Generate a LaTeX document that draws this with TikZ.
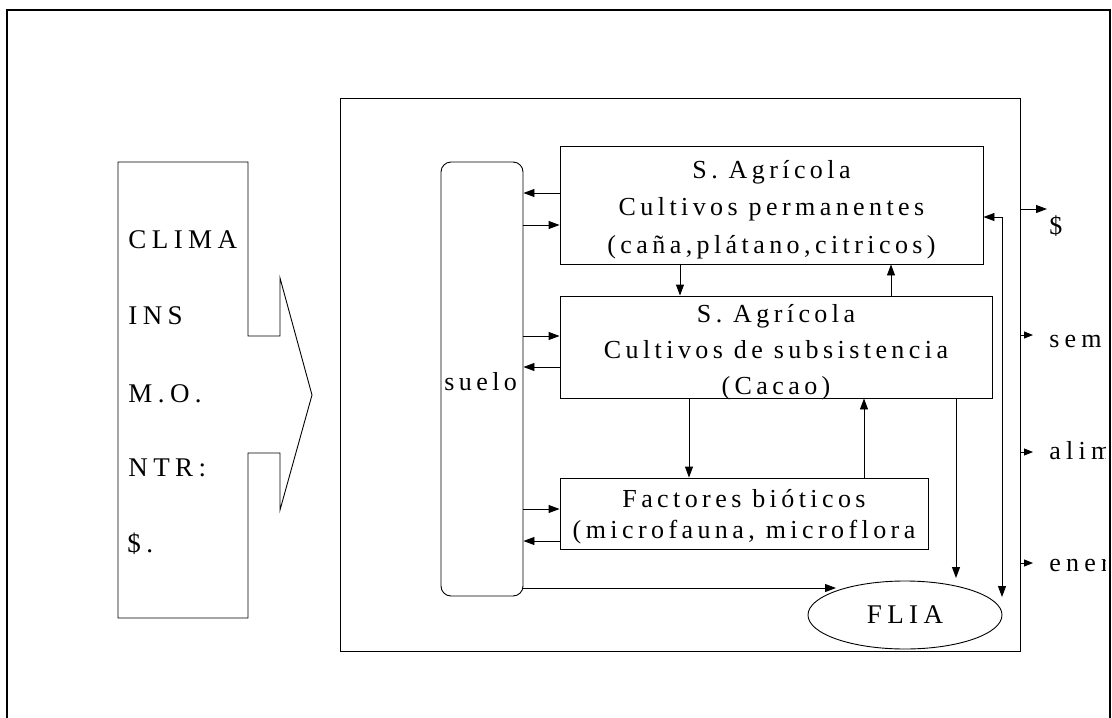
\documentclass[tikz,border=0pt]{standalone}
\usepackage{fontspec}
\setmainfont{Liberation Serif}
\newfontfamily\spA{Liberation Serif}[LetterSpace=17]
\newfontfamily\spB{Liberation Serif}[LetterSpace=20]
\usetikzlibrary{arrows.meta,shapes.geometric}
\begin{document}
\begin{tikzpicture}[x=1pt,y=-1pt,line width=0.9pt,
  box/.style={draw,rectangle,inner sep=0pt},
  arr/.style={-{Triangle[length=11pt,width=8pt]}},
  darr/.style={{Triangle[length=11pt,width=8pt]}-{Triangle[length=11pt,width=8pt]}},
  sarr/.style={-{Triangle[length=9pt,width=7pt]}},
  btxt/.style={font=\spA\fontsize{26}{31}\selectfont,inner sep=0pt,anchor=base},
  ltxt/.style={font=\spB\fontsize{27}{32}\selectfont,inner sep=0pt,anchor=base west},
  rtxt/.style={font=\spB\fontsize{26}{31}\selectfont,inner sep=0pt,anchor=base west}]
\useasboundingbox (0,0) rectangle (1112,718);
% outer frame
\draw[line width=1.6pt] (7,718) -- (7,10) -- (1110,10) -- (1110,718);
% left block arrow
\draw (118,162) -- (248,162) -- (248,336) -- (280,336) -- (280,278) -- (312,395)
  -- (280,510) -- (280,453) -- (248,453) -- (248,618) -- (118,618) -- cycle;
\node[ltxt] (clima) at (128,248) {CLIMA};
\node[ltxt] (ins) at (128,324) {INS};
\node[ltxt] (mo) at (128,402) {M.O.};
\node[ltxt] (ntr) at (128,476) {NTR:};
\node[ltxt] (din) at (127,552) {\$.};
% main frame
\node[box,minimum width=680pt,minimum height=553pt] (main) at (680,374.5) {};
% suelo
\node[box,rounded corners=10pt,minimum width=82pt,minimum height=434pt] (suelo) at (482,379) {};
\node[btxt,anchor=base west] (suelot) at (444,390) {suelo};
% boxes
\node[box,minimum width=423pt,minimum height=118pt] (b1) at (771.5,205) {};
\node[btxt] (b1a) at (771.5,178) {S. Agrícola};
\node[btxt] (b1b) at (771.5,215.5) {Cultivos permanentes};
\node[btxt] (b1c) at (771.5,253) {(caña,plátano,citricos)};
\node[box,minimum width=432pt,minimum height=102pt] (b2) at (776,347) {};
\node[btxt] (b2a) at (776,322) {S. Agrícola};
\node[btxt] (b2b) at (776,358) {Cultivos de subsistencia};
\node[btxt] (b2c) at (776,394) {(Cacao)};
\node[box,minimum width=368pt,minimum height=71pt] (b3) at (744,513.5) {};
\node[btxt] (b3a) at (744,507) {Factores bióticos};
\node[btxt] (b3b) at (744,538) {(microfauna, microflora};
% FLIA
\node[draw,ellipse,minimum width=194pt,minimum height=68pt,inner sep=0pt,
  font=\spB\fontsize{27}{32}\selectfont] (flia) at (905,615) {FLIA};
% coordinates for free ends
\coordinate (fl1) at (836,588);
\coordinate (fl2) at (956,578);
\coordinate (fl3) at (1002,597);
\coordinate (o1) at (1047,209);
\coordinate (o2) at (1033,335);
\coordinate (o3) at (1033,452);
\coordinate (o4) at (1033,563);
% connectors suelo <-> boxes
\draw[arr] (b1.west |- 0,193) -- (suelo.east |- 0,193);
\draw[arr] (suelo.east |- 0,225) -- (b1.west |- 0,225);
\draw[arr] (suelo.east |- 0,336) -- (b2.west |- 0,336);
\draw[arr] (b2.west |- 0,367) -- (suelo.east |- 0,367);
\draw[arr] (suelo.east |- 0,509) -- (b3.west |- 0,509);
\draw[arr] (b3.west |- 0,541) -- (suelo.east |- 0,541);
\draw[arr] (suelo.east |- 0,588) -- (fl1);
% vertical connectors
\draw[arr] (b1.south -| 680,0) -- (b2.north -| 680,0);
\draw[arr] (b2.north -| 891,0) -- (b1.south -| 891,0);
\draw[arr] (b2.south -| 689,0) -- (b3.north -| 689,0);
\draw[arr] (b3.north -| 864,0) -- (b2.south -| 864,0);
\draw[arr] (b2.south -| 956,0) -- (fl2);
\draw[darr] (fl3) |- (b1.east |- 0,217);
% outputs
\draw[arr] (main.east |- 0,209) -- (o1);
\draw[sarr] (main.east |- 0,335) -- (o2);
\draw[sarr] (main.east |- 0,452) -- (o3);
\draw[sarr] (main.east |- 0,563) -- (o4);
\begin{scope}
\clip (1000,0) rectangle (1105,718);
\node[rtxt] (tdol) at (1049,234) {\$};
\node[rtxt] (tsem) at (1049,347) {semi};
\node[rtxt] (tali) at (1049,459) {alim};
\node[rtxt] (tene) at (1049,571) {ener};
\end{scope}
\end{tikzpicture}
\end{document}
